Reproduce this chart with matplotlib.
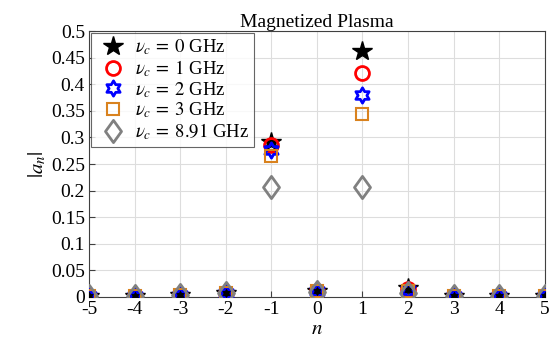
import numpy as np
import matplotlib
matplotlib.use("Agg")
import matplotlib.pyplot as plt
from matplotlib.path import Path

n = [-5, -4, -3, -2, -1, 0, 1, 2, 3, 4, 5]
a_0GHz = [0.002, 0.002, 0.003, 0.008, 0.291, 0.012, 0.463, 0.016, 0.002, 0.002, 0.002]
a_1GHz = [0.002, 0.002, 0.003, 0.008, 0.285, 0.012, 0.422, 0.015, 0.002, 0.002, 0.002]
a_2GHz = [0.002, 0.002, 0.003, 0.008, 0.276, 0.012, 0.380, 0.013, 0.002, 0.002, 0.002]
a_3GHz = [0.002, 0.002, 0.003, 0.008, 0.265, 0.012, 0.344, 0.011, 0.002, 0.002, 0.002]
a_891GHz = [0.002, 0.002, 0.003, 0.008, 0.207, 0.010, 0.207, 0.008, 0.002, 0.002, 0.002]
labels = [r'$\nu_c\,=\;0$ GHz', r'$\nu_c\,=\;1$ GHz', r'$\nu_c\,=\;2$ GHz',
          r'$\nu_c\,=\;3$ GHz', r'$\nu_c\,=\;8.91$ GHz']

plt.rcParams['font.family'] = ['Liberation Serif', 'DejaVu Serif']
plt.rcParams['mathtext.fontset'] = 'stix'

# hexagram marker
ang = np.pi / 2 + np.arange(12) * np.pi / 6
rad = np.where(np.arange(12) % 2 == 0, 1.0, 1 / np.sqrt(3))
verts = np.column_stack([rad * np.cos(ang), rad * np.sin(ang)])
verts = np.vstack([verts, verts[0]])
hexagram = Path(verts, [Path.MOVETO] + [Path.LINETO] * 11 + [Path.CLOSEPOLY])

# MATLAB-like diamond (taller than wide)
dverts = np.array([[0, 1], [0.72, 0], [0, -1], [-0.72, 0], [0, 1]])
diamond = Path(dverts, [Path.MOVETO] + [Path.LINETO] * 3 + [Path.CLOSEPOLY])

fig = plt.figure(figsize=(5.57, 3.49), dpi=100)
ax = fig.add_axes([0.160, 0.149, 0.818, 0.762])

ax.plot(n, a_0GHz, linestyle='none', marker='*', ms=15, color='black', mfc='black', label=labels[0], zorder=3)
ax.plot(n, a_1GHz, linestyle='none', marker='o', ms=10, color='red', mfc='none', mew=2, label=labels[1], zorder=3)
ax.plot(n, a_2GHz, linestyle='none', marker=hexagram, ms=11, color='blue', mfc='none', mew=2, label=labels[2], zorder=3)
ax.plot(n, a_3GHz, linestyle='none', marker='s', ms=8, color='#D9821E', mfc='none', mew=1.5, label=labels[3], zorder=3)
ax.plot(n, a_891GHz, linestyle='none', marker=diamond, ms=16, color='#808080', mfc='none', mew=2, label=labels[4], zorder=3)

ax.set_xlim(-5, 5)
ax.set_ylim(0, 0.5)
ax.set_xticks(n)
ax.set_xticklabels([str(v) for v in n])
yt = np.arange(0, 0.501, 0.05)
ax.set_yticks(yt)
ax.set_yticklabels(['0', '0.05', '0.1', '0.15', '0.2', '0.25', '0.3', '0.35', '0.4', '0.45', '0.5'])
ax.tick_params(direction='in', labelsize=14, length=4, color='#404040', pad=3)
ax.grid(True, color='#dddddd', linewidth=0.8)
ax.set_axisbelow(True)
for s in ax.spines.values():
    s.set_color('#404040')
    s.set_linewidth(0.8)

ax.set_title('Magnetized Plasma', fontsize=14, pad=2)
ax.set_xlabel(r'$n$', fontsize=15, labelpad=1)
ax.set_ylabel(r'$|a_n|$', fontsize=15, labelpad=2)

leg = ax.legend(loc='upper left', fontsize=13.5, frameon=True, fancybox=False,
                edgecolor='#404040', borderaxespad=0.1, handletextpad=0.3,
                labelspacing=0.05, borderpad=0.25, handlelength=1.8)
leg.get_frame().set_linewidth(0.8)

fig.savefig('out.png', dpi=100)
